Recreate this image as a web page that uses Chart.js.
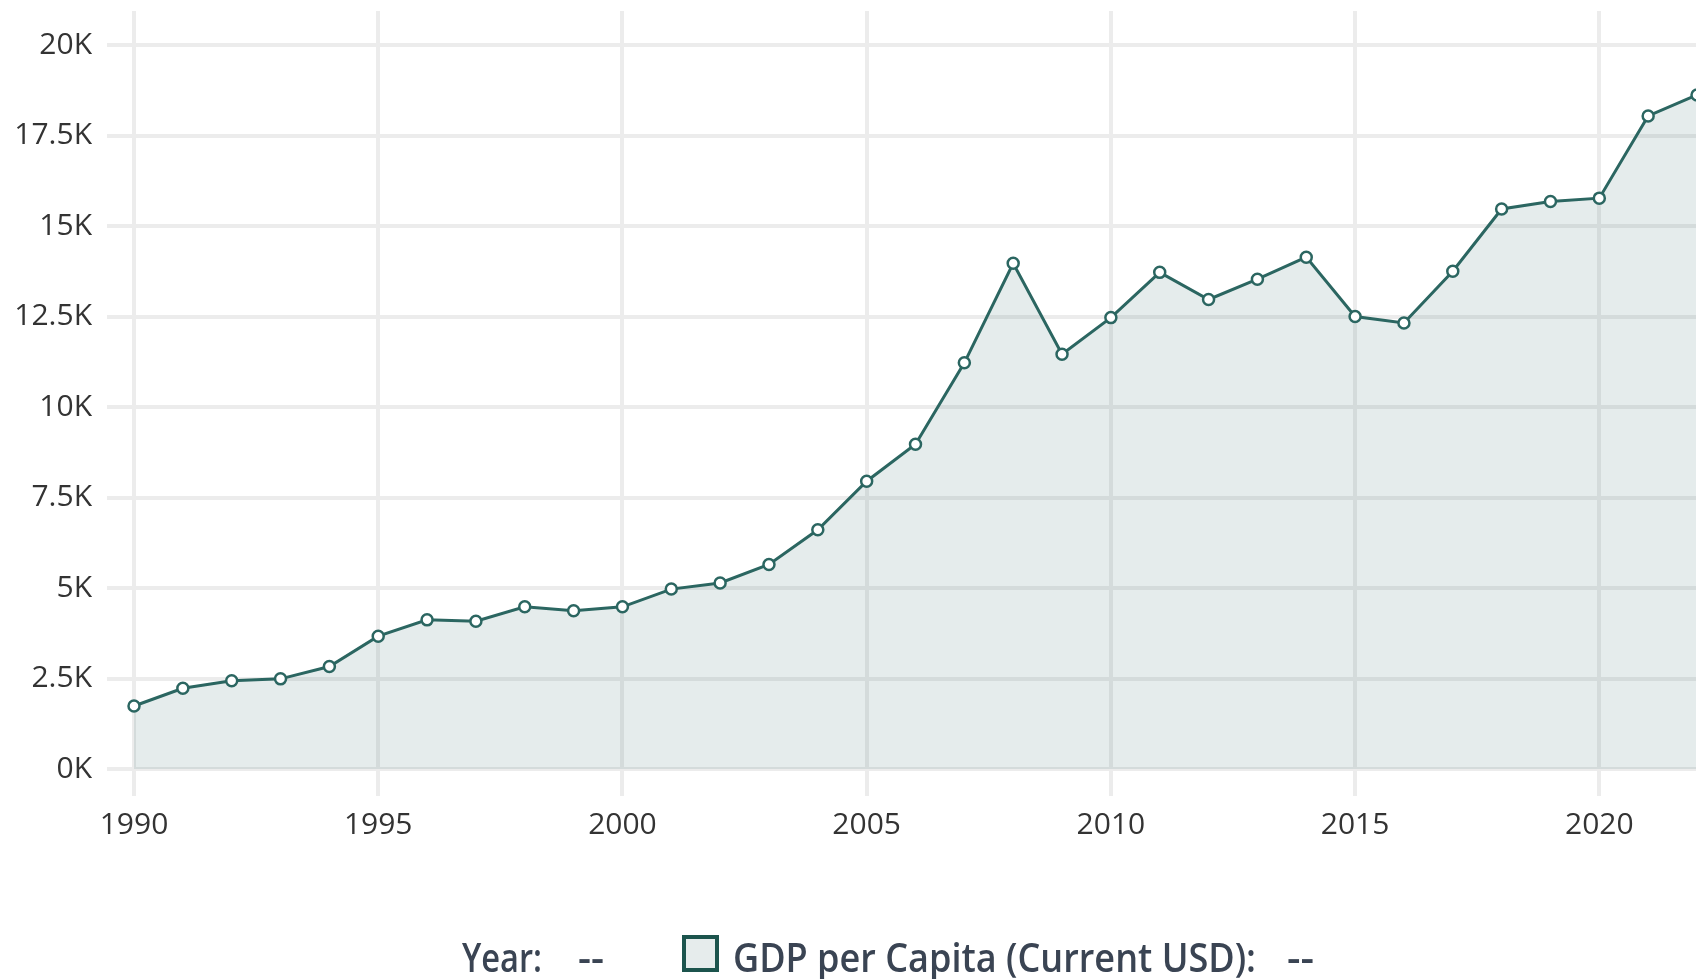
<!DOCTYPE html>
<html>
<head>
<meta charset="utf-8">
<script src="https://cdn.jsdelivr.net/npm/chart.js@4"></script>
<style>
  html, body { margin: 0; padding: 0; background: #fff; overflow: hidden; }
  #wrap { position: relative; width: 1705px; height: 854px; }
  #legend { position: absolute; top: 0; left: 0; width: 1696px; height: 979px; pointer-events: none;
            font-family: 'Open Sans', sans-serif; font-size: 40px; font-weight: 600; color: #3a4453; }
  #legend span { position: absolute; top: 937px; line-height: 40px; white-space: nowrap; transform-origin: 0 0; }
  #legend .box { top: 935px; width: 29px; height: 29px; border: 4px solid #1c544d; background: #e6ecec; }
</style>
</head>
<body>
<div id="wrap"><canvas id="gdp-line"></canvas></div>
<div id="legend">
  <span class="txt" data-w="80" style="left:462px">Year:</span>
  <span class="txt" data-w="26" style="left:578px">--</span>
  <span class="box" style="left:682px"></span>
  <span class="txt" data-w="523" style="left:733px">GDP per Capita (Current USD):</span>
  <span class="txt" data-w="27" style="left:1287px">--</span>
</div>
<script>
const years = [1990, 1991, 1992, 1993, 1994, 1995, 1996, 1997, 1998, 1999, 2000, 2001, 2002, 2003, 2004, 2005,
               2006, 2007, 2008, 2009, 2010, 2011, 2012, 2013, 2014, 2015, 2016, 2017, 2018, 2019, 2020, 2021, 2022];
const gdpPerCapita = [1740, 2230, 2440, 2490, 2830, 3670, 4120, 4080, 4480, 4370, 4480, 4970, 5140, 5650, 6610, 7950,
                      8970, 11220, 13970, 11460, 12470, 13720, 12970, 13530, 14140, 12500, 12320, 13750, 15470, 15680, 15770, 18040, 18620];
const yTicks = [0, 2500, 5000, 7500, 10000, 12500, 15000, 17500, 20000];

const lineColor = '#2b6661';
const gridColor = '#ececec';
const tickFont = { family: 'Open Sans', size: 30 };

// squeeze legend text to the reference widths (the original font is narrower)
document.querySelectorAll('#legend .txt').forEach(el => {
    const w = el.getBoundingClientRect().width;
    el.style.transform = 'scaleX(' + (Number(el.dataset.w) / w) + ')';
});

const ctx = document.getElementById('gdp-line');

new Chart(ctx, {
    type: 'line',
    data: {
        datasets: [{
            label: 'GDP per Capita (Current USD)',
            data: years.map((y, i) => ({ x: y, y: gdpPerCapita[i] })),
            borderColor: lineColor,
            borderWidth: 3,
            backgroundColor: 'rgba(43, 102, 97, 0.12)',
            fill: 'origin',
            tension: 0,
            pointRadius: 5.5,
            pointBorderWidth: 2.5,
            pointBackgroundColor: '#ffffff',
            pointBorderColor: lineColor,
            clip: false
        }]
    },
    options: {
        responsive: true,
        maintainAspectRatio: false,
        animation: false,
        layout: { padding: { top: 11, right: 0, bottom: 0, left: 0 } },
        scales: {
            x: {
                type: 'linear',
                min: 1990,
                max: 2022,
                afterFit: axis => { axis.paddingLeft = 0; axis.paddingRight = 0; },
                grid: { color: gridColor, lineWidth: 4, tickLength: 27, tickColor: gridColor },
                border: { display: false },
                ticks: {
                    stepSize: 5,
                    includeBounds: false,
                    padding: 11,
                    color: '#333',
                    font: tickFont,
                    maxRotation: 0,
                    callback: v => String(v)
                }
            },
            y: {
                min: 0,
                max: 20940,
                afterFit: axis => { axis.width = 134; axis.paddingTop = 0; axis.paddingBottom = 0; },
                afterBuildTicks: axis => { axis.ticks = yTicks.map(v => ({ value: v })); },
                grid: { color: gridColor, lineWidth: 4, tickLength: 27, tickColor: gridColor },
                border: { display: false },
                ticks: {
                    padding: 15,
                    color: '#333',
                    font: tickFont,
                    callback: v => (v / 1000) + 'K'
                }
            }
        },
        plugins: {
            legend: { display: false },
            tooltip: { enabled: false }
        }
    }
});
</script>
</body>
</html>
